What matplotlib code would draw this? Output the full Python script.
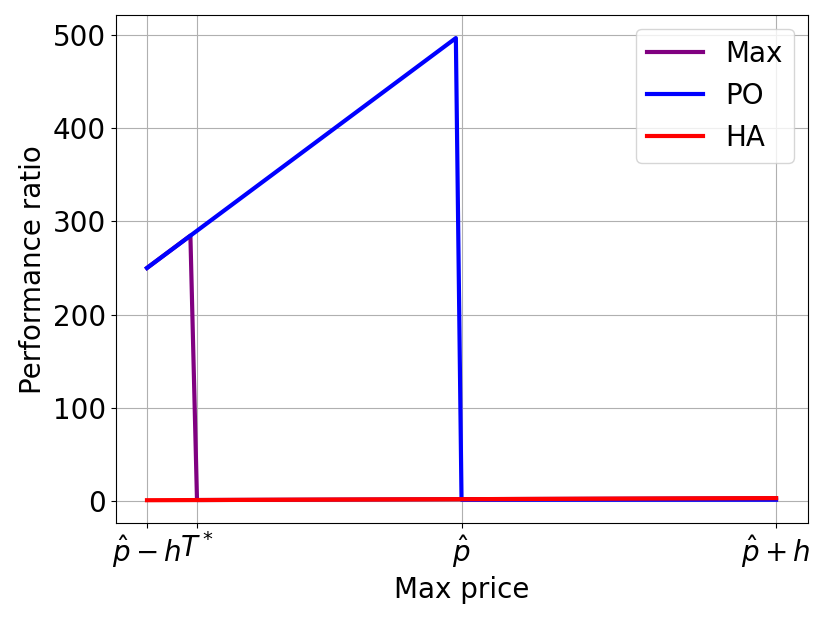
import matplotlib.pyplot as plt

# x positions: 0 = p_hat - h, 1 = p_hat, 2 = p_hat + h
t_star = 0.159

# Max curve
max_x = [0.0, 0.138, t_star, 2.0]
max_y = [250, 284.7, 1.2, 3.2]

# PO curve
po_x = [0.0, 0.982, 1.0, 2.0]
po_y = [250, 496.5, 1.5, 1.5]

# HA curve
ha_x = [0.0, 2.0]
ha_y = [1.0, 3.2]

tick_pos = [0.0, t_star, 1.0, 2.0]
tick_labels = [r"$\hat{p}-h$", r"$T^*$", r"$\hat{p}$", r"$\hat{p}+h$"]

plt.rcParams["font.size"] = 20

fig = plt.figure(figsize=(8.3, 6.23), dpi=100)
ax = fig.add_axes([0.1392, 0.160, 0.8337, 0.816])

ax.plot(max_x, max_y, color="purple", linewidth=3, label="Max")
ax.plot(po_x, po_y, color="blue", linewidth=3, label="PO")
ax.plot(ha_x, ha_y, color="red", linewidth=3, label="HA")

ax.set_xticks(tick_pos)
ax.set_xticklabels(tick_labels)
ax.set_xlabel("Max price")
ax.set_ylabel("Performance ratio")
ax.grid(True)
ax.legend(loc="upper right")

fig.savefig("out.png", dpi=100)
